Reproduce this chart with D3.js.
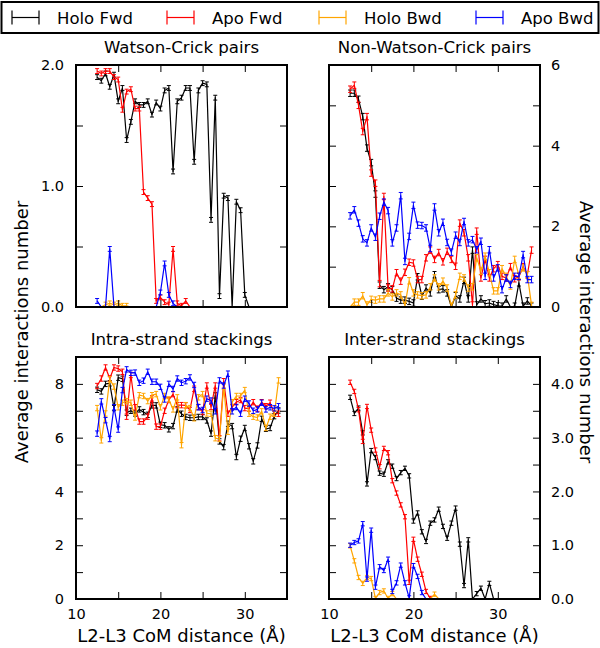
<!DOCTYPE html>
<html><head><meta charset="utf-8">
<script src="https://cdn.jsdelivr.net/npm/d3@7"></script>
<style>body{margin:0;background:#fff} svg{display:block;font-family:"DejaVu Sans",sans-serif}</style>
</head><body><svg id="c" width="600" height="648"></svg>
<script>
// ---------------- data ----------------
const distance = [12.5,13,13.5,14,14.5,15,15.5,16,16.5,17,17.5,18,18.5,19,19.5,20,20.5,21,21.5,22,22.5,23,23.5,24,24.5,25,25.5,26,26.5,27,27.5,28,28.5,29,29.5,30,30.5,31,31.5,32,32.5,33,33.5,34];
const seriesNames = ["Holo Fwd","Apo Fwd","Holo Bwd","Apo Bwd"];

// Watson-Crick pairs
const wcHoloFwd = [1.90,1.87,1.93,1.82,1.92,1.70,1.81,1.38,1.53,1.70, 1.67,1.67,1.70,1.59,1.69,1.64,1.79,1.81,1.12,1.70, 1.73,1.81,1.81,1.20,1.79,1.85,1.84,0.72,1.73,0.09, 0.92,0.90,0.00,0.87,0.80,0.10,0,0,0,0, 0,0,0,0];
const wcApoFwd  = [1.95,1.93,1.95,1.95,1.90,1.88,1.63,1.78,1.80,1.64, 1.64,0.95,0.90,0.85,0.05,0.08,0.04,0.02,0.48,0.03, 0.01,0.05,0,0,0,0,0,0,0,0, 0,0,0,0,0,0,0,0,0,0, 0,0,0,0];
const wcHoloBwd = [0,0,0.02,0.03,0.02,0.03,0.01,0.01,0,0, 0,0,0,0,0,0,0,0,0,0, 0,0,0,0,0,0,0,0,0,0, 0,0,0,0,0,0,0,0,0,0, 0,0,0,0];
const wcApoBwd  = [0.05,0,0,0.48,0,0,0,0,0,0, 0,0,0,0,0,0.12,0.36,0.10,0.03,0, 0,0,0,0,0,0,0,0,0,0, 0,0,0,0,0,0,0,0,0,0, 0,0,0,0];

// Non-Watson-Crick pairs
const nwcHoloFwd = [5.30,5.30,5.15,4.72,3.94,3.58,2.80,0.54,0.43,0.50, 0.43,0.22,0.17,0.17,0.14,0.10,0.75,0.27,0.47,0.35, 0.80,0.43,0.45,0.35,0.00,0.28,0.20,0.66,0.20,1.41, 0.05,0.20,0.08,0.10,0.06,0.03,0.02,0.20,0.00,0.02, 0.60,0.02,0.15,0.02];
const nwcApoFwd  = [5.40,5.50,5.00,4.35,4.72,3.32,3.07,0.58,2.74,0.47, 0.45,0.85,0.64,0.86,1.11,1.09,0.68,0.68,1.22,1.41, 1.18,1.35,1.12,1.38,1.18,1.01,2.08,1.84,1.22,0.05, 1.88,0.72,1.18,0.72,0.95,1.05,0.76,0.72,1.00,0.70, 0.75,1.00,0.80,1.41];
const nwcHoloBwd = [0.00,0.12,0.12,0.28,0.05,0.19,0.17,0.20,0.20,0.35, 0.25,0.35,0.30,0.04,0.65,0.35,0.30,0.28,0.30,0.50, 0.72,0.50,0.64,0.47,0.02,0.30,0.76,0.72,0.47,0.50, 1.22,0.89,1.26,0.85,0.40,0.40,0.95,0.76,0.52,1.18, 0.78,0.97,0.80,0.04];
const nwcApoBwd  = [2.26,2.41,2.08,1.69,1.59,1.96,1.73,2.25,2.60,2.39, 1.59,1.96,2.76,1.13,1.75,2.52,2.03,2.02,1.96,1.45, 2.48,1.84,2.10,1.60,1.36,1.78,1.60,2.12,1.59,1.67, 1.42,1.63,0.76,1.42,0.72,0.97,0.43,0.72,0.56,0.76, 0.76,1.30,0.68,0.68];

// Intra-strand stackings
const intraHoloFwd = [7.78,7.72,8.00,8.02,7.10,8.23,8.19,6.93,7.00,6.90, 7.05,6.95,6.85,7.20,7.20,6.48,6.46,6.31,6.43,7.05, 6.89,6.77,6.74,6.74,6.77,6.77,6.64,6.15,7.57,5.86, 5.65,6.52,6.43,5.28,5.96,6.36,5.68,5.12,5.71,6.70, 6.33,6.36,6.80,7.01];
const intraApoFwd  = [7.92,8.20,8.61,8.20,8.61,8.57,8.45,6.78,8.33,7.13, 6.60,6.60,6.78,7.46,6.41,6.41,7.00,7.40,7.62,7.21, 7.21,7.20,7.03,7.82,7.14,6.95,7.94,7.14,7.94,5.98, 8.10,6.89,7.14,7.32,7.40,7.10,7.08,7.32,7.08,7.32, 7.17,7.30,6.89,6.89];
const intraHoloBwd = [7.10,5.90,6.90,8.17,7.90,7.13,7.30,7.36,7.30,6.75, 7.58,7.55,7.36,7.58,7.62,7.13,7.55,7.42,7.05,7.50, 5.72,7.21,7.10,6.72,7.50,7.62,6.90,6.89,5.98,5.95, 7.90,6.22,7.32,7.55,7.55,7.77,6.89,6.78,6.75,6.98, 6.36,6.78,6.89,8.13];
const intraApoBwd  = [6.15,7.35,6.65,5.95,7.13,6.30,7.77,8.54,8.41,8.42, 8.04,8.12,8.45,8.08,8.08,7.89,7.42,8.00,7.81,8.20, 8.04,8.10,8.24,7.96,7.13,7.03,7.45,7.38,6.98,8.13, 7.94,8.38,6.98,7.14,6.89,7.45,7.27,7.00,7.05,7.30, 7.05,7.13,7.09,7.17];

// Inter-strand stackings
const interHoloFwd = [3.75,3.45,3.55,3.09,2.14,2.76,2.63,2.34,2.32,2.55, 2.47,2.24,2.35,2.43,2.29,1.45,1.60,1.25,1.07,1.41, 1.47,1.67,1.35,1.13,1.41,1.69,1.02,0.25,1.10,0.00, 0.10,0.20,0.00,0.29,0,0,0,0,0,0, 0,0,0,0];
const interApoFwd  = [4.03,3.86,3.52,2.93,3.58,3.14,2.77,2.46,2.80,2.72, 2.20,1.97,1.75,1.53,0.31,1.11,0.74,0.46,0.14,0.01, 0,0,0,0,0,0,0,0,0,0, 0,0,0,0,0,0,0,0,0,0, 0,0,0,0];
const interHoloBwd = [0.99,0.71,0.40,0.29,0.40,0.38,0.01,0.12,0.15,0.01, 0.10,0.00,0,0,0,0,0,0,0,0, 0.09,0,0,0,0,0,0,0,0,0, 0,0,0,0,0,0,0,0,0,0, 0,0,0,0];
const interApoBwd  = [1.00,1.05,1.08,1.40,0.37,1.28,0.22,0.60,0.53,0.74, 0.14,0.30,0.63,0.30,0.02,0.62,0.42,0.12,0.00,0, 0,0,0,0,0,0,0,0,0,0, 0,0,0,0,0,0,0,0,0,0, 0,0,0,0];

// typical standard error of each panel's averages
const wcError = 0.02, nwcError = 0.08, intraError = 0.1, interError = 0.04;

// ticks
const xDomain = [10, 35];
const xTickValues = [15, 20, 25, 30];
const xTickLabels = [10, 20, 30];
const wcTicks = [0, 0.5, 1, 1.5, 2],            wcLabels = [0, 1, 2];
const nwcTicks = [0, 1, 2, 3, 4, 5, 6],          nwcLabels = [0, 2, 4, 6];
const intraTicks = [0, 1, 2, 3, 4, 5, 6, 7, 8, 9], intraLabels = [0, 2, 4, 6, 8];
const interTicks = [0, 0.5, 1, 1.5, 2, 2.5, 3, 3.5, 4, 4.5], interLabels = [0, 1, 2, 3, 4];

// ---------------- drawing ----------------
const colors = ["#000000", "#ff0000", "#ffa500", "#0000ff"];
const svg = d3.select("#c");
const FONT = '"DejaVu Sans", sans-serif';

const panels = [
  {id:"wc", title:"Watson-Crick pairs", series:[wcHoloFwd,wcApoFwd,wcHoloBwd,wcApoBwd], err:wcError,
   yDomain:[0,2], ticks:wcTicks, labels:wcLabels, fmt:d3.format(".1f"), side:"left", showX:false,
   left:76, right:287, top:65, bottom:307},
  {id:"nwc", title:"Non-Watson-Crick pairs", series:[nwcHoloFwd,nwcApoFwd,nwcHoloBwd,nwcApoBwd], err:nwcError,
   yDomain:[0,6], ticks:nwcTicks, labels:nwcLabels, fmt:d3.format("d"), side:"right", showX:false,
   left:329, right:540, top:65, bottom:307},
  {id:"intra", title:"Intra-strand stackings", series:[intraHoloFwd,intraApoFwd,intraHoloBwd,intraApoBwd], err:intraError,
   yDomain:[0,9], ticks:intraTicks, labels:intraLabels, fmt:d3.format("d"), side:"left", showX:true,
   left:76, right:287, top:357, bottom:599},
  {id:"inter", title:"Inter-strand stackings", series:[interHoloFwd,interApoFwd,interHoloBwd,interApoBwd], err:interError,
   yDomain:[0,4.5], ticks:interTicks, labels:interLabels, fmt:d3.format(".1f"), side:"right", showX:true,
   left:329, right:540, top:357, bottom:599}
];

const defs = svg.append("defs");

function styleAxis(sel, size) {
  sel.select(".domain").remove();
  sel.attr("font-family", null).attr("font-size", null);
  sel.selectAll("line").attr("stroke", "#000").attr("stroke-width", 1);
  sel.selectAll("text").attr("fill", "#000").style("font-family", FONT).style("font-size", size + "px");
}

panels.forEach(p => {
  const x = d3.scaleLinear().domain(xDomain).range([p.left, p.right]);
  const y = d3.scaleLinear().domain(p.yDomain).range([p.bottom, p.top]);
  const g = svg.append("g");

  defs.append("clipPath").attr("id", "clip-" + p.id)
    .append("rect").attr("x", p.left).attr("y", p.top)
    .attr("width", p.right - p.left).attr("height", p.bottom - p.top);

  const dg = g.append("g").attr("clip-path", `url(#clip-${p.id})`);
  const line = d3.line().x((d, i) => x(distance[i])).y(d => y(d));

  p.series.forEach((vals, k) => {
    const sg = dg.append("g");
    sg.append("path").datum(vals).attr("d", line)
      .attr("fill", "none").attr("stroke", colors[k]).attr("stroke-width", 1.2)
      .attr("stroke-linejoin", "round");
    vals.forEach((v, i) => {
      if (v <= 0) return;
      const cx = x(distance[i]);
      const y1 = y(v - p.err), y2 = y(v + p.err);
      sg.append("line").attr("x1", cx).attr("x2", cx).attr("y1", y1).attr("y2", y2)
        .attr("stroke", colors[k]).attr("stroke-width", 1);
      [y1, y2].forEach(yy => sg.append("line").attr("x1", cx - 2).attr("x2", cx + 2)
        .attr("y1", yy).attr("y2", yy).attr("stroke", colors[k]).attr("stroke-width", 1));
    });
  });

  // inward tick marks on all four sides
  const tl = -7;
  styleAxis(g.append("g").attr("transform", `translate(0,${p.bottom})`)
    .call(d3.axisBottom(x).tickValues(xTickValues).tickSizeInner(tl).tickSizeOuter(0).tickFormat("")), 14);
  styleAxis(g.append("g").attr("transform", `translate(0,${p.top})`)
    .call(d3.axisTop(x).tickValues(xTickValues).tickSizeInner(tl).tickSizeOuter(0).tickFormat("")), 14);
  styleAxis(g.append("g").attr("transform", `translate(${p.left},0)`)
    .call(d3.axisLeft(y).tickValues(p.ticks).tickSizeInner(tl).tickSizeOuter(0).tickFormat("")), 14);
  styleAxis(g.append("g").attr("transform", `translate(${p.right},0)`)
    .call(d3.axisRight(y).tickValues(p.ticks).tickSizeInner(tl).tickSizeOuter(0).tickFormat("")), 14);

  // tick labels
  if (p.side === "left") {
    styleAxis(g.append("g").attr("transform", `translate(${p.left},0)`)
      .call(d3.axisLeft(y).tickValues(p.labels).tickSize(0).tickPadding(12).tickFormat(p.fmt)), 14.5);
  } else {
    styleAxis(g.append("g").attr("transform", `translate(${p.right},0)`)
      .call(d3.axisRight(y).tickValues(p.labels).tickSize(0).tickPadding(11).tickFormat(p.fmt)), 14.5);
  }
  if (p.showX) {
    styleAxis(g.append("g").attr("transform", `translate(0,${p.bottom})`)
      .call(d3.axisBottom(x).tickValues(xTickLabels).tickSize(0).tickPadding(10).tickFormat(d3.format("d"))), 14.5);
    g.append("text").attr("x", (p.left + p.right) / 2).attr("y", 642)
      .attr("text-anchor", "middle").style("font-family", FONT).style("font-size", "18px")
      .text("L2-L3 CoM distance (Å)");
  }

  // frame
  g.append("rect").attr("x", p.left).attr("y", p.top)
    .attr("width", p.right - p.left).attr("height", p.bottom - p.top)
    .attr("fill", "none").attr("stroke", "#000").attr("stroke-width", 2);

  // title
  g.append("text").attr("x", (p.left + p.right) / 2).attr("y", p.top - 12)
    .attr("text-anchor", "middle").style("font-family", FONT).style("font-size", "16.6px")
    .text(p.title);
});

// y-axis titles
svg.append("text").attr("transform", "translate(28,332) rotate(-90)")
  .attr("text-anchor", "middle").style("font-family", FONT).style("font-size", "18px")
  .text("Average interactions number");
svg.append("text").attr("transform", "translate(580,332) rotate(90)")
  .attr("text-anchor", "middle").style("font-family", FONT).style("font-size", "18px")
  .text("Average interactions number");

// legend
const lg = svg.append("g");
lg.append("rect").attr("x", 1.5).attr("y", 2).attr("width", 597).attr("height", 31)
  .attr("fill", "#fff").attr("stroke", "#000").attr("stroke-width", 2);
const legendX = [12, 167, 319, 476];
seriesNames.forEach((name, k) => {
  const sx = legendX[k], cy = 17.5;
  lg.append("line").attr("x1", sx).attr("x2", sx + 27).attr("y1", cy).attr("y2", cy)
    .attr("stroke", colors[k]).attr("stroke-width", 1.2);
  [sx, sx + 27].forEach(xx => lg.append("line").attr("x1", xx).attr("x2", xx)
    .attr("y1", cy - 7).attr("y2", cy + 7).attr("stroke", colors[k]).attr("stroke-width", 1.2));
  lg.append("text").attr("x", sx + 45).attr("y", cy + 6)
    .style("font-family", FONT).style("font-size", "16.5px").text(name);
});
</script></body></html>
